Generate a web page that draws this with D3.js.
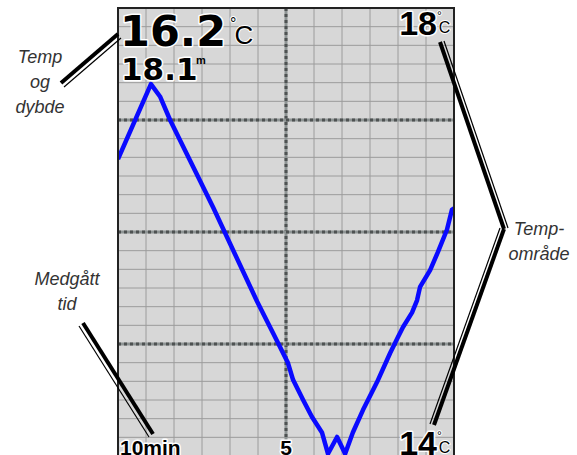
<!DOCTYPE html>
<html>
<head>
<meta charset="utf-8">
<script src="https://cdn.jsdelivr.net/npm/d3@7"></script>
<style>
  html, body { margin: 0; padding: 0; background: #fff; }
  svg { display: block; }
  .big { font-weight: bold; fill: #000;
         stroke: #fff; stroke-width: 3px; paint-order: stroke; stroke-linejoin: round; }
  .note { font-family: "Liberation Sans", Arial, sans-serif; font-style: italic; fill: #333; font-size: 18px; }
</style>
</head>
<body>
<svg id="chart"></svg>
<script>
const width = 577;
const height = 455;

// plot frame on the page
const frame = {left: 118, right: 454, top: 8, bottom: 456};

// minutes ago (10 = left edge, 0 = now)
const timeMin = [10.0, 9.02, 8.75, 8.45, 7.86, 7.17, 5.86, 5.39, 4.94, 4.79, 4.49, 4.23, 3.93,
    3.75, 3.48, 3.24, 3.01, 2.71, 2.29, 1.90, 1.67, 1.52, 1.25, 1.10, 1.01, 0.71, 0.48, 0.21, 0.06, 0.0];
// water temperature, degrees C
const tempC = [16.65, 17.32, 17.21, 17.0, 16.64, 16.22, 15.38, 15.10, 14.83, 14.68, 14.50, 14.35, 14.21,
    14.02, 14.17, 14.02, 14.21, 14.41, 14.66, 14.92, 15.06, 15.15, 15.28, 15.39, 15.51, 15.66, 15.82, 16.02, 16.20, 16.21];

const timeDomain = [10, 0];
const tempDomain = [14, 18];
const xCols = 12;   // vertical grid divisions
const yRows = 24;   // horizontal grid divisions

const svg = d3.select("#chart")
    .attr("width", width)
    .attr("height", height);

const x = d3.scaleLinear().domain(timeDomain).range([frame.left, frame.right]);
const y = d3.scaleLinear().domain(tempDomain).range([frame.bottom, frame.top]);

// background
svg.append("rect")
    .attr("x", frame.left).attr("y", frame.top)
    .attr("width", frame.right - frame.left)
    .attr("height", frame.bottom - frame.top)
    .style("fill", "#d7d7d7");

// thin grid
const xGrid = d3.range(1, xCols).map(i => timeDomain[0] - i * (timeDomain[0] - timeDomain[1]) / xCols);
const yGrid = d3.range(1, yRows).map(i => tempDomain[0] + i * (tempDomain[1] - tempDomain[0]) / yRows);

svg.append("g").selectAll("line").data(xGrid).join("line")
    .attr("x1", d => x(d)).attr("x2", d => x(d))
    .attr("y1", frame.top).attr("y2", frame.bottom)
    .style("stroke", "#9c9c9c").style("stroke-width", 1);

svg.append("g").selectAll("line").data(yGrid).join("line")
    .attr("x1", frame.left).attr("x2", frame.right)
    .attr("y1", d => y(d)).attr("y2", d => y(d))
    .style("stroke", "#9c9c9c").style("stroke-width", 1);

// dashed major lines: every 6th division
const xMajor = xGrid.filter((d, i) => (i + 1) % 6 === 0);
const yMajor = yGrid.filter((d, i) => (i + 1) % 6 === 0);

let drawDashed = (g, x1, y1, x2, y2) =>
{
    g.append("line").attr("x1", x1).attr("y1", y1).attr("x2", x2).attr("y2", y2)
        .style("stroke", "#8e9494").style("stroke-width", 3);
    g.append("line").attr("x1", x1).attr("y1", y1).attr("x2", x2).attr("y2", y2)
        .style("stroke", "#4e5252").style("stroke-width", 3)
        .style("stroke-dasharray", "3,3");
}
const gMajor = svg.append("g");
xMajor.forEach(d => drawDashed(gMajor, x(d), frame.top, x(d), frame.bottom));
yMajor.forEach(d => drawDashed(gMajor, frame.left, y(d), frame.right, y(d)));

// temperature line, clipped to the frame
svg.append("clipPath").attr("id", "clip").append("rect")
    .attr("x", frame.left).attr("y", frame.top)
    .attr("width", frame.right - frame.left)
    .attr("height", frame.bottom - frame.top);

const points = timeMin.map((t, i) => [t, tempC[i]]);
svg.append("path")
    .datum(points)
    .attr("clip-path", "url(#clip)")
    .attr("d", d3.line().x(d => x(d[0])).y(d => y(d[1])))
    .style("fill", "none")
    .style("stroke", "#0a0aff")
    .style("stroke-width", 4.5)
    .style("stroke-linejoin", "round");

// frame border
svg.append("path")
    .attr("d", `M${frame.left},${frame.bottom + 2}V${frame.top}H${frame.right}V${frame.bottom + 2}`)
    .style("fill", "none").style("stroke", "#222").style("stroke-width", 2);

// readouts
let bigText = (tx, ty, txt, size, anchor, family) =>
    svg.append("text").attr("class", "big")
        .attr("x", tx).attr("y", ty)
        .attr("text-anchor", anchor || "start")
        .style("font-family", family || "'Liberation Sans', Arial, sans-serif")
        .style("font-size", size + "px")
        .text(txt);

// degree sign stacked over a thin C
let unitC = (tx, ty, degSize, cSize, cdx, cdy) =>
{
    const t = svg.append("text")
        .attr("x", tx).attr("y", ty)
        .style("font-family", "'Liberation Sans Narrow', 'Liberation Sans', sans-serif")
        .style("fill", "#000")
        .style("stroke", "#fff").style("stroke-width", 2).style("paint-order", "stroke");
    t.append("tspan").style("font-size", degSize + "px").text("°");
    t.append("tspan").attr("dx", cdx).attr("dy", cdy).style("font-size", cSize + "px").text("C");
}

const dejavu = "'DejaVu Sans', sans-serif";
bigText(120, 46, "16.2", 43, "start", dejavu);
unitC(230, 29, 16, 26, -2, 15);
bigText(121, 80, "18.1", 31, "start", dejavu);
svg.append("text").attr("x", 196).attr("y", 64)
    .style("font-family", "'Liberation Sans', sans-serif").style("font-weight", "bold")
    .style("font-size", "11px").text("m");

bigText(437, 35, tempDomain[1], 34, "end");
unitC(437, 20, 12, 16, -3, 13);

bigText(437, 455, tempDomain[0], 34, "end");
unitC(437, 440, 12, 16, -3, 13);

bigText(120, 455, timeDomain[0] + "min", 21);
bigText(x(5), 455, "5", 21, "middle");

// callout notes
let note = (tx, lines, y0) =>
{
    const t = svg.append("text").attr("class", "note").attr("text-anchor", "middle");
    lines.forEach((s, i) => t.append("tspan").attr("x", tx).attr("y", y0 + i * 25).text(s));
}
note(40, ["Temp", "og", "dybde"], 63);
note(67, ["Medgått", "tid"], 285);
note(539, ["Temp-", "område"], 235);

// double callout strokes: thick black + thin black with a white gap
let callout = (pts, off) =>
{
    const ln = d3.line();
    svg.append("path").attr("d", ln(pts.map(p => [p[0] + off[0], p[1] + off[1]])))
        .style("fill", "none").style("stroke", "#000").style("stroke-width", 1.2);
    svg.append("path").attr("d", ln(pts))
        .style("fill", "none").style("stroke", "#000").style("stroke-width", 4);
}
callout([[61, 83], [118, 34]], [3, 4]);
callout([[83, 323], [153, 434]], [-4, 3]);
callout([[440, 42], [504, 229]], [4, -1]);
callout([[504, 229], [434, 425]], [-4, -1]);
</script>
</body>
</html>
